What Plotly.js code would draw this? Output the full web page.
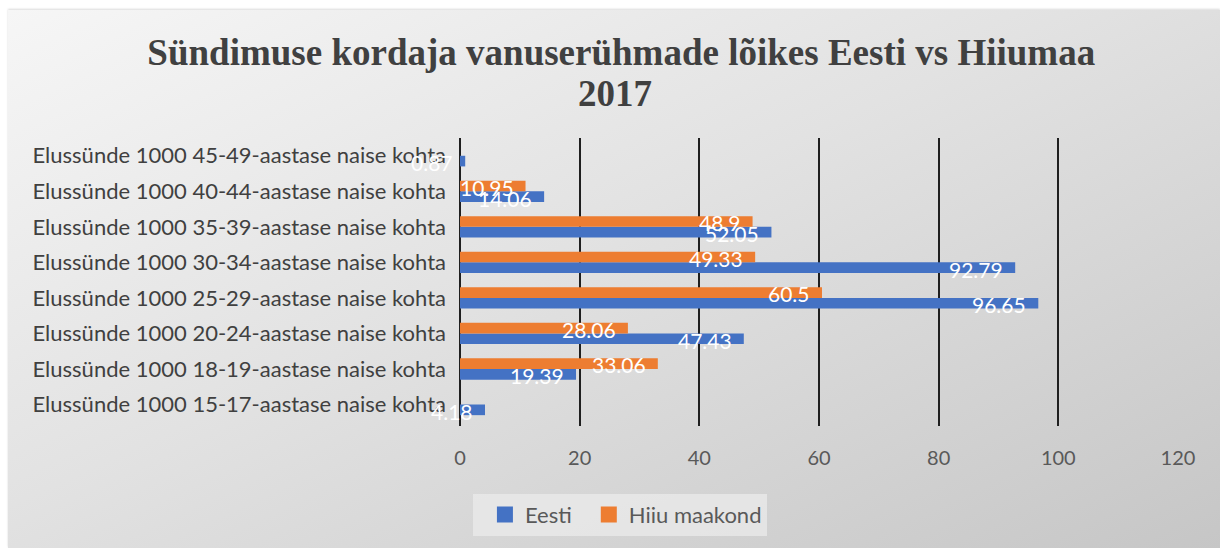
<!DOCTYPE html>
<html>
<head>
<meta charset="utf-8">
<script src="https://cdn.plot.ly/plotly-3.0.1.min.js"></script>
<style>
  html, body { margin: 0; padding: 0; background: #ffffff; }
  #chart {
    position: absolute;
    left: 8px;
    top: 10px;
    width: 1212px;
    height: 538px;
    background: linear-gradient(155deg, #f6f6f6 0%, #e2e2e2 45%, #c6c6c6 100%);
    box-shadow: 0 -1px 2px rgba(0,0,0,0.15);
  }
</style>
</head>
<body>
<div id="chart"></div>
<script>
// vanuserühmad, alt üles
const categories = [
  'Elussünde 1000 15-17-aastase naise kohta',
  'Elussünde 1000 18-19-aastase naise kohta',
  'Elussünde 1000 20-24-aastase naise kohta',
  'Elussünde 1000 25-29-aastase naise kohta',
  'Elussünde 1000 30-34-aastase naise kohta',
  'Elussünde 1000 35-39-aastase naise kohta',
  'Elussünde 1000 40-44-aastase naise kohta',
  'Elussünde 1000 45-49-aastase naise kohta'
];
const eesti = [4.18, 19.39, 47.43, 96.65, 92.79, 52.05, 14.06, 0.87];
const hiiu = [null, 33.06, 28.06, 60.5, 49.33, 48.9, 10.95, null];
const xTicks = [0, 20, 40, 60, 80, 100, 120];
const seriesNames = ['Eesti', 'Hiiu maakond'];
const seriesColors = ['#4472C4', '#ED7D31'];

const font = "Lato, 'Open Sans', sans-serif";

const bars = [eesti, hiiu].map((values, i) => ({
  type: 'bar',
  orientation: 'h',
  name: seriesNames[i],
  x: values,
  y: categories,
  marker: { color: seriesColors[i] },
  showlegend: false,
  hoverinfo: 'x+y'
}));

// legendi jaoks suuremad ruudud (tulpade omad on liiga väikesed)
const legendItems = seriesNames.map((name, i) => ({
  type: 'scatter',
  mode: 'markers',
  name: name,
  x: [null],
  y: [null],
  marker: { symbol: 'square', size: 16, color: seriesColors[i] },
  showlegend: true
}));

// andmesildid: valge tekst tulba otsa sees (nagu Excelis)
const labelShift = [-7, 4];
const labels = [];
[eesti, hiiu].forEach((values, i) => {
  values.forEach((v, j) => {
    if (v === null) return;
    labels.push({
      x: v,
      y: categories[j],
      xref: 'x',
      yref: 'y',
      text: String(v),
      showarrow: false,
      xanchor: 'right',
      yanchor: 'middle',
      xshift: -10,
      yshift: labelShift[i],
      font: { family: font, size: 21, color: '#ffffff' }
    });
  });
});

labels.push({
  text: '2017',
  xref: 'paper',
  yref: 'paper',
  x: 0.216,
  y: 1.153,
  xanchor: 'center',
  yanchor: 'middle',
  showarrow: false,
  font: { family: "'Liberation Serif', serif", size: 37, color: '#404040', weight: 'bold' }
});

const layout = {
  width: 1212,
  height: 538,
  paper_bgcolor: 'rgba(0,0,0,0)',
  plot_bgcolor: 'rgba(0,0,0,0)',
  margin: { t: 128, r: 42, b: 116, l: 452 },
  title: {
    text: 'Sündimuse kordaja vanuserühmade lõikes Eesti vs Hiiumaa',
    font: { family: "'Liberation Serif', serif", size: 37, color: '#404040', weight: 'bold' },
    x: 0.506,
    xanchor: 'center',
    xref: 'container',
    y: 1 - 42 / 538,
    yanchor: 'middle',
    yref: 'container'
  },
  barmode: 'group',
  bargap: 0.4,
  bargroupgap: 0,
  xaxis: {
    range: [0, 120],
    tickvals: xTicks,
    showgrid: true,
    gridcolor: '#1f1f1f',
    gridwidth: 2,
    zeroline: true,
    zerolinecolor: '#1f1f1f',
    zerolinewidth: 2,
    ticks: '',
    ticklabelstandoff: 18,
    tickfont: { family: font, size: 20, color: '#595959' },
    fixedrange: true
  },
  yaxis: {
    type: 'category',
    categoryorder: 'array',
    categoryarray: categories,
    showgrid: false,
    zeroline: false,
    ticks: '',
    ticklabelstandoff: 13,
    tickfont: { family: font, size: 22, color: '#404040' },
    fixedrange: true
  },
  annotations: labels,
  showlegend: true,
  legend: {
    orientation: 'h',
    x: 0.018,
    xanchor: 'left',
    y: -0.235,
    yanchor: 'top',
    bgcolor: 'rgba(236,236,236,0.7)',
    font: { family: font, size: 22, color: '#595959' },
    itemwidth: 30,
    indentation: 12,
    traceorder: 'normal'
  }
};

Plotly.newPlot('chart', bars.concat(legendItems), layout, { displayModeBar: false, staticPlot: true });
</script>
</body>
</html>
